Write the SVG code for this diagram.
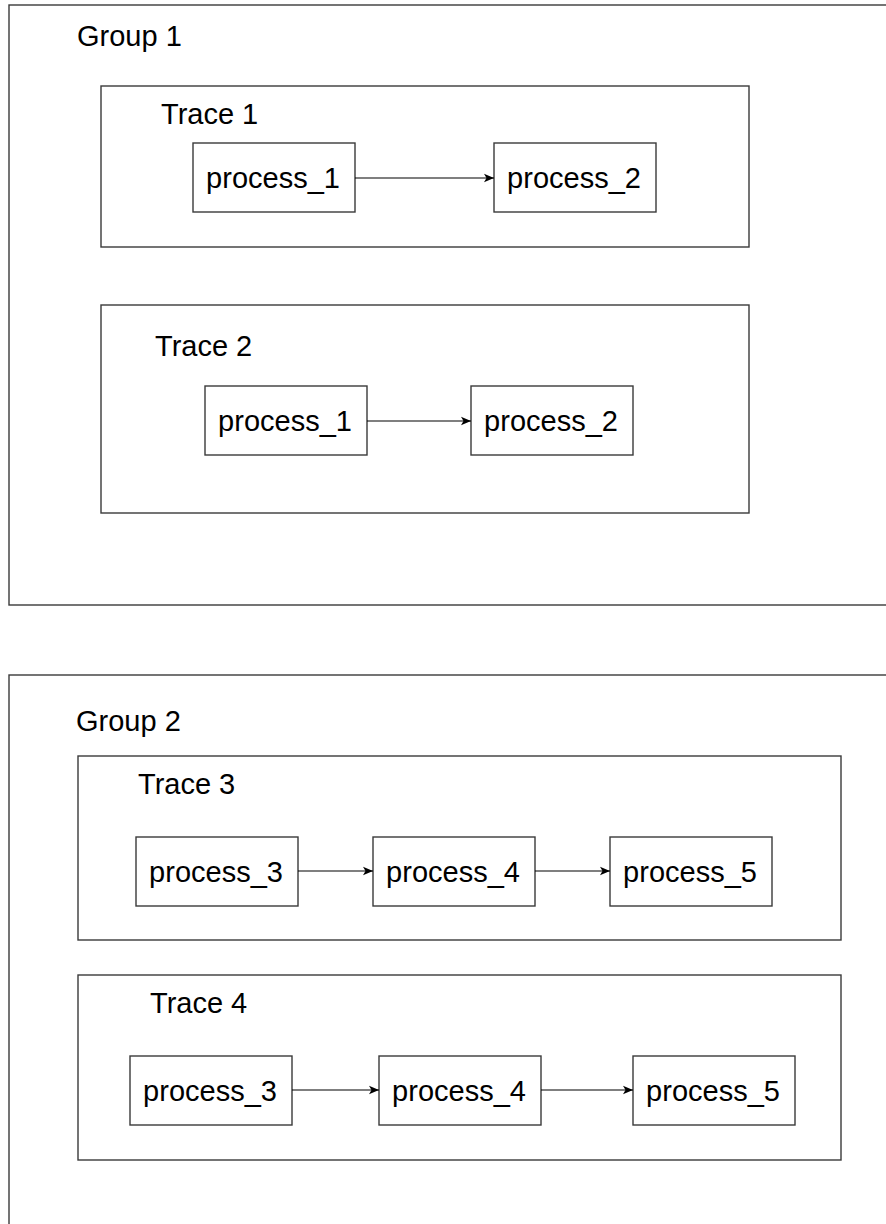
<svg xmlns="http://www.w3.org/2000/svg" width="886" height="1224" viewBox="0 0 886 1224">
  <style>
    .frame { fill: #ffffff; stroke: #3a3a3a; stroke-width: 1.4; }
    .box { fill: #ffffff; stroke: #3a3a3a; stroke-width: 1.4; }
    .lbl { font-family: "Liberation Sans", Arial, sans-serif; font-size: 29px; fill: #000000; }
    .mid { text-anchor: middle; }
    .edge { fill: none; stroke: #000000; stroke-width: 1.2; marker-end: url(#arrow); }
  </style>
  <defs>
    <marker id="arrow" markerWidth="12" markerHeight="10" refX="10" refY="5" orient="auto" markerUnits="userSpaceOnUse">
      <path d="M0,0.8 L10,5 L0,9.2 L2.5,5 Z" fill="#000000"/>
    </marker>
  </defs>
  <rect width="886" height="1224" fill="#ffffff"/>

  <!-- Group 1 -->
  <g id="group1">
    <rect class="frame" x="9" y="5" width="900" height="600"/>
    <text class="lbl" x="77" y="46">Group 1</text>
  </g>
  <g id="trace1">
    <rect class="frame" x="101" y="86" width="648" height="161"/>
    <text class="lbl" x="161" y="124">Trace 1</text>
  </g>
  <g id="t1_process_1">
    <rect class="box" x="193" y="143" width="162" height="69"/>
    <text class="lbl mid" x="273" y="188">process_1</text>
  </g>
  <g id="t1_process_2">
    <rect class="box" x="494" y="143" width="162" height="69"/>
    <text class="lbl mid" x="574" y="188">process_2</text>
  </g>
  <g id="trace2">
    <rect class="frame" x="101" y="305" width="648" height="208"/>
    <text class="lbl" x="155" y="356">Trace 2</text>
  </g>
  <g id="t2_process_1">
    <rect class="box" x="205" y="386" width="162" height="69"/>
    <text class="lbl mid" x="285" y="431">process_1</text>
  </g>
  <g id="t2_process_2">
    <rect class="box" x="471" y="386" width="162" height="69"/>
    <text class="lbl mid" x="551" y="431">process_2</text>
  </g>

  <!-- Group 2 -->
  <g id="group2">
    <rect class="frame" x="9" y="675" width="900" height="600"/>
    <text class="lbl" x="76" y="731">Group 2</text>
  </g>
  <g id="trace3">
    <rect class="frame" x="78" y="756" width="763" height="184"/>
    <text class="lbl" x="138" y="794">Trace 3</text>
  </g>
  <g id="t3_process_3">
    <rect class="box" x="136" y="837" width="162" height="69"/>
    <text class="lbl mid" x="216" y="882">process_3</text>
  </g>
  <g id="t3_process_4">
    <rect class="box" x="373" y="837" width="162" height="69"/>
    <text class="lbl mid" x="453" y="882">process_4</text>
  </g>
  <g id="t3_process_5">
    <rect class="box" x="610" y="837" width="162" height="69"/>
    <text class="lbl mid" x="690" y="882">process_5</text>
  </g>
  <g id="trace4">
    <rect class="frame" x="78" y="975" width="763" height="185"/>
    <text class="lbl" x="150" y="1013">Trace 4</text>
  </g>
  <g id="t4_process_3">
    <rect class="box" x="130" y="1056" width="162" height="69"/>
    <text class="lbl mid" x="210" y="1101">process_3</text>
  </g>
  <g id="t4_process_4">
    <rect class="box" x="379" y="1056" width="162" height="69"/>
    <text class="lbl mid" x="459" y="1101">process_4</text>
  </g>
  <g id="t4_process_5">
    <rect class="box" x="633" y="1056" width="162" height="69"/>
    <text class="lbl mid" x="713" y="1101">process_5</text>
  </g>

  <!-- Connectors -->
  <g id="connectors">
    <line class="edge" x1="355" y1="178" x2="494" y2="178"/>
    <line class="edge" x1="367" y1="421" x2="471" y2="421"/>
    <line class="edge" x1="298" y1="871" x2="373" y2="871"/>
    <line class="edge" x1="535" y1="871" x2="610" y2="871"/>
    <line class="edge" x1="292" y1="1090" x2="379" y2="1090"/>
    <line class="edge" x1="541" y1="1090" x2="633" y2="1090"/>
  </g>
</svg>
